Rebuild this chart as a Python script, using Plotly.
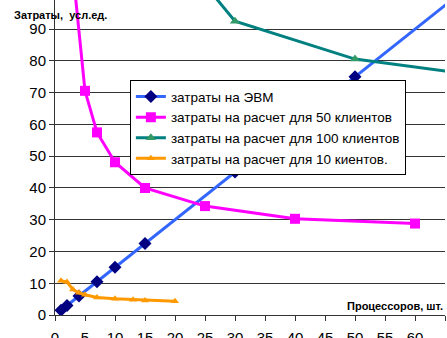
import plotly.graph_objects as go

# Data
x_evm = [1, 2, 4, 7, 10, 15, 30, 50, 70]
y_evm = [1.5, 3, 6, 10.5, 15, 22.5, 45, 75, 105]

x_50 = [3, 5, 7, 10, 15, 25, 40, 60]
y_50 = [108, 70.6, 57.5, 48.1, 40.0, 34.3, 30.3, 28.8]

x_100 = [25, 30, 50, 70]
y_100 = [104, 92.5, 80.6, 75.6]

x_10 = [1, 2, 3, 4, 5, 7, 10, 13, 15, 20]
y_10 = [10.8, 10.4, 8.0, 7.0, 6.4, 5.5, 5.1, 4.8, 4.6, 4.3]

x_ticks = list(range(0, 70, 5))
y_ticks = list(range(0, 100, 10))

names = ["затраты на ЭВМ", "затраты на расчет для 50 клиентов",
         "затраты на расчет для 100 клиентов", "затраты на расчет для 10 киентов."]

FONT = "Arial, Liberation Sans, sans-serif"

fig = go.Figure()
fig.add_trace(go.Scatter(x=x_evm, y=y_evm, name=names[0], mode="lines+markers",
                         line=dict(color="#3366FF", width=3),
                         marker=dict(symbol="diamond", size=10, color="#000080")))
fig.add_trace(go.Scatter(x=x_50, y=y_50, name=names[1], mode="lines+markers",
                         line=dict(color="#FF00FF", width=3),
                         marker=dict(symbol="square", size=10, color="#FF00FF")))
fig.add_trace(go.Scatter(x=x_100, y=y_100, name=names[2], mode="lines+markers",
                         line=dict(color="#008080", width=3),
                         marker=dict(symbol="triangle-up", size=9, color="#339966")))
fig.add_trace(go.Scatter(x=x_10, y=y_10, name=names[3], mode="lines+markers",
                         line=dict(color="#FF9900", width=3),
                         marker=dict(symbol="triangle-up", size=7, color="#FF9900")))

fig.update_layout(
    width=447, height=338,
    margin=dict(l=55, r=2, t=0, b=23, autoexpand=False),
    paper_bgcolor="white", plot_bgcolor="white",
    font=dict(family=FONT, color="black"),
    showlegend=True,
    legend=dict(x=0.192, y=0.745, xanchor="left", yanchor="top",
                bordercolor="black", borderwidth=1, bgcolor="white",
                font=dict(size=13.5, family=FONT), tracegroupgap=0,
                itemwidth=30),
    xaxis=dict(range=[0, 65], tickvals=x_ticks, ticks="outside", ticklen=5,
               tickcolor="#333", showgrid=False, showline=True, linecolor="#333",
               linewidth=1, zeroline=False, automargin=False,
               ticklabelstandoff=4,
               tickfont=dict(size=15, family=FONT)),
    yaxis=dict(range=[0, 99.2], tickvals=y_ticks, ticks="outside", ticklen=5,
               tickcolor="#333", showgrid=True, gridcolor="#333", gridwidth=1,
               showline=True, linecolor="#333", linewidth=1, zeroline=False,
               automargin=False, tickfont=dict(size=15, family=FONT)),
    annotations=[
        dict(text="<b>Затраты,  усл.ед.</b>", xref="paper", yref="paper",
             x=-43/390, y=1 - 15/315, xanchor="left", yanchor="middle",
             showarrow=False, font=dict(size=11, family=FONT)),
        dict(text="<b>Процессоров, шт.</b>", xref="paper", yref="paper",
             x=1, y=(315 - 306)/315, xanchor="right", yanchor="middle",
             showarrow=False, font=dict(size=11, family=FONT)),
    ],
)

fig.write_html("out.html", config={"displayModeBar": False},
               post_script="document.body.style.margin='0px';"
                           "document.body.style.overflow='hidden';")
